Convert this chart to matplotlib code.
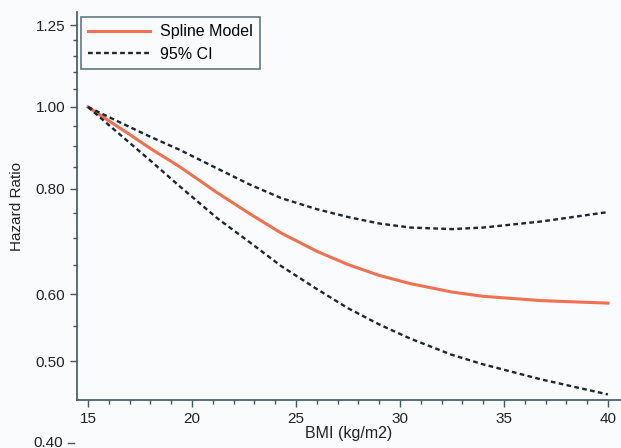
import numpy as np
import matplotlib.pyplot as plt
import matplotlib.transforms as mtransforms

plt.rcParams['font.family'] = ['Liberation Sans', 'DejaVu Sans']

bmi = [15, 16, 17, 18, 19.4, 21.2, 22.8, 24.3, 26, 27.5, 29, 30.5, 32.5, 34, 36.8, 40]
spline = [1.00, 0.963, 0.928, 0.893, 0.85, 0.792, 0.747, 0.709, 0.675, 0.651, 0.632, 0.618, 0.604, 0.597, 0.590, 0.586]
ci_upper = [1.00, 0.973, 0.947, 0.922, 0.89, 0.846, 0.809, 0.780, 0.757, 0.741, 0.728, 0.720, 0.717, 0.720, 0.732, 0.751]
ci_lower = [1.00, 0.952, 0.907, 0.864, 0.806, 0.739, 0.691, 0.648, 0.609, 0.578, 0.553, 0.532, 0.509, 0.496, 0.476, 0.457]

y_ticks = [0.50, 0.60, 0.80, 1.00, 1.25]
y_minor = [0.55, 0.65, 0.70, 0.75, 0.85, 0.90, 0.95, 1.05, 1.10, 1.15, 1.20]
x_ticks = [15, 20, 25, 30, 35, 40]

bg = '#fafbfd'
axcol = '#3d5763'
red = '#f07052'
dark = '#1c2733'
txt = '#222222'

fig = plt.figure(figsize=(6.21, 4.48), dpi=100, facecolor=bg)
ax = fig.add_axes([0.124, 0.107, 0.876, 0.866], facecolor=bg)

ax.plot(bmi, spline, color=red, lw=2.2, label='Spline Model')
ax.plot(bmi, ci_upper, color=dark, lw=1.7, ls=(0, (2, 1.4)), label='95% CI')
ax.plot(bmi, ci_lower, color=dark, lw=1.7, ls=(0, (2, 1.4)))

ax.set_yscale('log')
ax.set_ylim(0.45, 1.295)
ax.set_xlim(14.47, 40.63)
ax.set_yticks(y_ticks)
ax.set_yticklabels(['%.2f' % v for v in y_ticks])
ax.set_yticks(y_minor, minor=True)
ax.yaxis.set_minor_formatter(plt.NullFormatter())
ax.set_xticks(x_ticks)
ax.set_xticks(np.arange(15, 41, 1), minor=True)

for s in ['top', 'right']:
    ax.spines[s].set_visible(False)
for s in ['left', 'bottom']:
    ax.spines[s].set_color(axcol)
    ax.spines[s].set_linewidth(1.2)

ax.tick_params(which='major', length=5, width=1, color=axcol, labelsize=11, labelcolor=txt)
ax.tick_params(which='minor', length=3, width=1, color=axcol)

# 0.40 label sits below the clipped axis
trans = mtransforms.blended_transform_factory(ax.transAxes, ax.transData)
ax.text(-0.025, 0.40, '0.40', transform=trans, ha='right', va='center', fontsize=11, color=txt)
ax.plot([-0.017, -0.006], [0.40, 0.40], transform=trans, color=axcol, lw=1, clip_on=False)

ax.set_xlabel('BMI (kg/m2)', fontsize=11.5, labelpad=0, color=txt)
ax.set_ylabel('Hazard Ratio', fontsize=11, labelpad=8, color=txt)

leg = ax.legend(loc='upper left', fontsize=11.5, frameon=True, fancybox=False,
                bbox_to_anchor=(0.007, 0.987), borderaxespad=0, handlelength=3.9,
                handletextpad=0.6, borderpad=0.45, labelspacing=0.45)
leg.get_frame().set_edgecolor(axcol)
leg.get_frame().set_linewidth(1.2)
leg.get_frame().set_facecolor(bg)

fig.savefig('out.png', dpi=100, facecolor=bg)
